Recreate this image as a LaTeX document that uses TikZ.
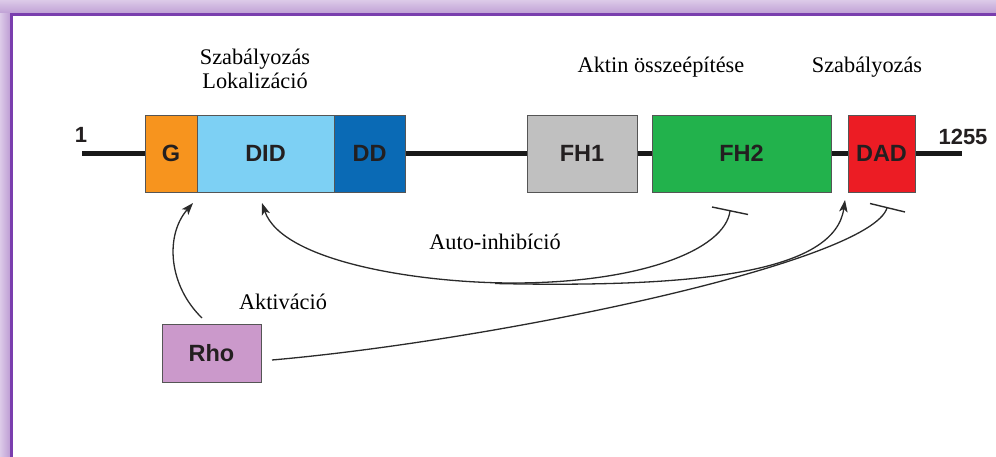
\documentclass[tikz,border=0pt]{standalone}
\usepackage{fontspec}
\setmainfont{Liberation Serif}
\newfontfamily\boxfont{Liberation Sans}
\usetikzlibrary{arrows.meta}
\definecolor{frameLight}{HTML}{DCCAE8}
\definecolor{frameMid}{HTML}{BE9ED4}
\definecolor{frameLine}{HTML}{7A3EAE}
\definecolor{cG}{HTML}{F7941E}
\definecolor{cDID}{HTML}{7DD0F4}
\definecolor{cDD}{HTML}{0A6AB5}
\definecolor{cFHa}{HTML}{C0C0C0}
\definecolor{cFHb}{HTML}{22B24C}
\definecolor{cDAD}{HTML}{EC1C24}
\definecolor{cRho}{HTML}{CB99CB}
\definecolor{boxEdge}{HTML}{555555}
\definecolor{txtDark}{HTML}{231F20}
\definecolor{conn}{HTML}{2A2A2A}
\begin{document}
\begin{tikzpicture}[x=1pt,y=-1pt,
  lbltext/.style={font=\fontsize{22.3}{24}\selectfont, text=black, inner sep=0pt, anchor=base},
  dombox/.style={draw=boxEdge, line width=0.8pt, inner sep=0pt, font=\boxfont\bfseries\fontsize{23.5}{26}\selectfont, text=txtDark},
  numlbl/.style={font=\boxfont\bfseries\fontsize{22}{24}\selectfont, text=txtDark, inner sep=0pt},
  backboneline/.style={line width=5pt, draw=black!90},
  linkline/.style={line width=1.3pt, draw=conn},
  actline/.style={linkline, -{Stealth[length=12pt, width=8.5pt, inset=3pt]}},
  tbarline/.style={line width=1.4pt, draw=conn}]
\useasboundingbox (0,0) rectangle (996,457);
\fill[white] (0,0) rectangle (996,457);
% frame
\shade[top color=frameLight, bottom color=frameMid] (0,0) rectangle (996,14);
\shade[left color=frameLight, right color=frameMid] (0,14) rectangle (10,457);
\fill[frameLine] (10,13.5) rectangle (996,16.5);
\fill[frameLine] (10,13.5) rectangle (13,457);

% backbone
\coordinate (bbL) at (82,153.5);
\coordinate (bbR) at (962,153.5);
\draw[backboneline] (bbL) -- (bbR);

% domains
\node[dombox, fill=cG,   minimum width=52pt,  minimum height=77pt] (G)   at (171,153.5) {G};
\node[dombox, fill=cDID, minimum width=137pt, minimum height=77pt] (DID) at (265.5,153.5) {DID};
\node[dombox, fill=cDD,  minimum width=71pt,  minimum height=77pt] (DD)  at (369.5,153.5) {DD};
\node[dombox, fill=cFHa, minimum width=110pt, minimum height=77pt] (FHa) at (582,153.5) {FH1};
\node[dombox, fill=cFHb, minimum width=179pt, minimum height=77pt] (FHb) at (741.5,153.5) {FH2};
\node[dombox, fill=cDAD, minimum width=67pt,  minimum height=77pt] (DAD) at (881.5,153.5) {DAD};
\node[dombox, fill=cRho, minimum width=99pt,  minimum height=58pt] (Rho) at (211.5,353) {Rho};

% numbers
\node[numlbl] (nStart) at (81,134.5) {1};
\node[numlbl] (nEnd) at (963,136.5) {1255};

% labels
\node[lbltext] (lSzab) at (255,65) {Szabályozás};
\node[lbltext] (lLok) at (255,89) {Lokalizáció};
\node[lbltext] (lAktin) at (661,73) {Aktin összeépítése};
\node[lbltext] (lSzabB) at (867,73) {Szabályozás};
\node[lbltext] (lAuto) at (495,250) {Auto-inhibíció};
\node[lbltext] (lAkt) at (283,309) {Aktiváció};

% connector end points
\coordinate (rhoUp) at (202,318);
\coordinate (tipG) at (193,203);
\coordinate (tipDID) at (262,203);
\coordinate (low) at (513,283);
\coordinate (fork) at (495,283.5);
\coordinate (tFH) at (730,211);
\coordinate (tipGap) at (845,200);
\coordinate (rhoRight) at (272,360);
\coordinate (tDAD) at (887,208);

% Rho activates G
\draw[actline] (rhoUp) .. controls (168,285) and (165,235) .. (tipG);
% auto-inhibition: DID <-> FH2
\draw[actline] (low) .. controls (420,283) and (282,262) .. (tipDID);
\draw[linkline] (low) .. controls (640,283) and (725,250) .. (tFH);
\draw[tbarline] (712,207) -- (748,214.5);
% branch to DAD gap
\draw[actline] (fork) .. controls (700,288) and (835,272) .. (tipGap);
% Rho --| DAD
\draw[linkline] (rhoRight) .. controls (500,340) and (870,262) .. (tDAD);
\draw[tbarline] (870,203.5) -- (905,212);
\end{tikzpicture}
\end{document}
